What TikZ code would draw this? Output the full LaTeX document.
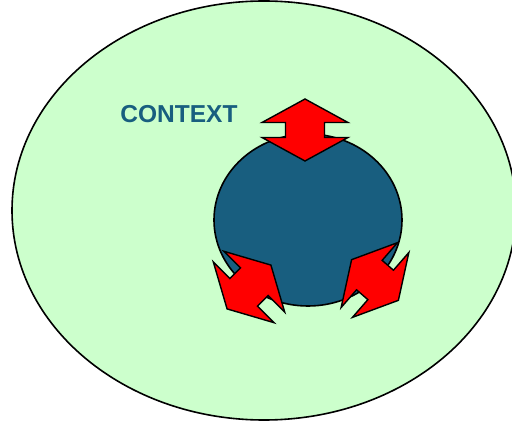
\documentclass[tikz,border=0pt]{standalone}
\usepackage{fontspec}
\newfontfamily\arialfont{Liberation Sans}
\usepackage{xcolor}
\usepackage{tikz}
\usetikzlibrary{positioning, calc}

\definecolor{ctxgreen}{HTML}{CCFFCC}
\definecolor{coreblue}{HTML}{185E7F}
\definecolor{arrowred}{HTML}{FF0000}

\tikzset{
  arrowfill/.style={fill=arrowred, draw=black, line width=1.4pt, line join=miter},
  pics/dblarrow/.style={code={
    \draw[arrowfill] (31,0) -- (7.5,43) -- (7.5,19.5) -- (-7.5,19.5) -- (-7.5,43)
      -- (-31,0) -- (-7.5,-43) -- (-7.5,-19.5) -- (7.5,-19.5) -- (7.5,-43) -- cycle;
  }}
}

\begin{document}
\begin{tikzpicture}[x=1pt, y=1pt]
\useasboundingbox (0,0) rectangle (512,426);
\clip (0,0) rectangle (512,426);

% Context ellipse
\draw[fill=ctxgreen, line width=1.6pt] (264,215.5) ellipse [x radius=252, y radius=209.5];

% Core
\draw[fill=coreblue, line width=1.6pt] (308,206) ellipse [x radius=94, y radius=86];

\node[font=\arialfont\bfseries\fontsize{24.5}{28}\selectfont, text=coreblue] (ctx) at (179,312) {CONTEXT};

% Exchange arrows
\foreach \cx/\cy/\ang in {305/296/90, 249/139/45, 375/146/-41} {
  \pic[rotate=\ang] at (\cx,\cy) {dblarrow};
}
\end{tikzpicture}
\end{document}
